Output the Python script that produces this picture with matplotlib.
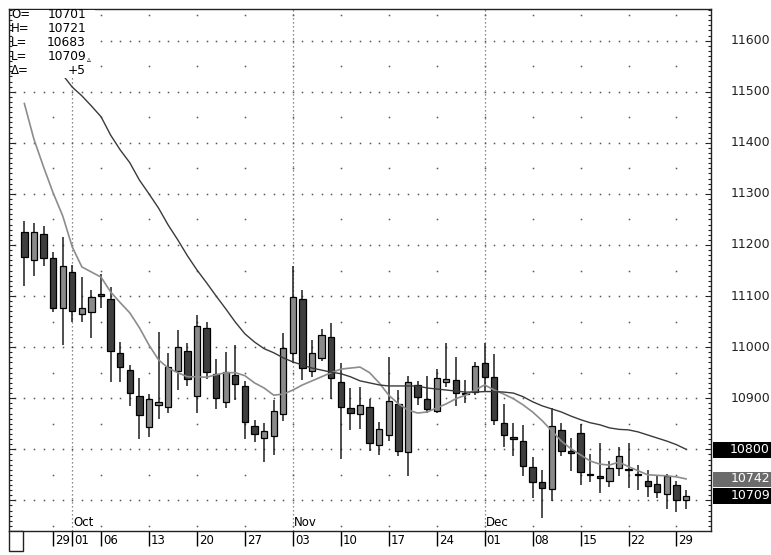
import numpy as np
import matplotlib.pyplot as plt
import matplotlib.transforms as mtransforms
from matplotlib.patches import Rectangle
from matplotlib.ticker import MultipleLocator

# daily bars, 24 Sep .. 30 Dec (one bar per weekday)
opens = [11226, 11171, 11222, 11175, 11076, 11148, 11065, 11068, 11104, 11094,
         10989, 10955, 10904, 10844, 10887, 10882, 10954, 10993, 10904, 11037,
         10948, 10893, 10946, 10923, 10846, 10822, 10826, 10869, 10988, 11094,
         10954, 10978, 11019, 10931, 10880, 10869, 10882, 10809, 10827, 10889,
         10794, 10925, 10898, 10874, 10931, 10936, 10911, 10912, 10968, 10942,
         10852, 10824, 10817, 10765, 10736, 10723, 10837, 10796, 10832, 10752,
         10747, 10737, 10763, 10762, 10751, 10737, 10732, 10713, 10730, 10701]
highs = [11246, 11244, 11238, 11187, 11215, 11161, 11138, 11112, 11143, 11118,
         11011, 10965, 10940, 10908, 11030, 10988, 11034, 11008, 11063, 11050,
         10976, 10991, 11004, 10934, 10858, 10852, 10897, 11027, 11159, 11111,
         11013, 11036, 11047, 10968, 10920, 10922, 10898, 10854, 10980, 10916,
         10944, 10934, 10944, 10957, 11009, 10981, 10936, 10970, 11009, 10987,
         10889, 10852, 10848, 10785, 10760, 10880, 10852, 10822, 10849, 10791,
         10812, 10778, 10805, 10812, 10769, 10760, 10747, 10752, 10737, 10721]
lows = [11120, 11140, 11158, 11068, 11004, 11050, 11050, 11017, 11076, 10931,
        10932, 10884, 10820, 10825, 10859, 10872, 10916, 10924, 10872, 10937,
        10878, 10880, 10897, 10820, 10814, 10776, 10789, 10856, 10968, 10936,
        10941, 10972, 10898, 10781, 10838, 10839, 10797, 10789, 10817, 10787,
        10747, 10887, 10872, 10871, 10921, 10884, 10890, 10906, 10913, 10848,
        10805, 10786, 10747, 10704, 10665, 10698, 10787, 10758, 10730, 10735,
        10715, 10726, 10747, 10724, 10721, 10707, 10704, 10683, 10678, 10683]
closes = [11177, 11226, 11174, 11076, 11158, 11071, 11076, 11099, 11101, 10993,
          10961, 10910, 10867, 10898, 10893, 10961, 11001, 10937, 11042, 10952,
          10900, 10952, 10927, 10854, 10830, 10835, 10875, 10998, 11099, 10959,
          10988, 11024, 10940, 10882, 10871, 10886, 10812, 10840, 10895, 10796,
          10931, 10903, 10879, 10940, 10938, 10910, 10908, 10963, 10942, 10858,
          10828, 10820, 10768, 10735, 10724, 10846, 10797, 10792, 10756, 10750,
          10743, 10764, 10786, 10760, 10749, 10728, 10717, 10747, 10701, 10709]

ma_short = [11477, 11407, 11353, 11302, 11257, 11196, 11157, 11147, 11137, 11108,
            11087, 11067, 11038, 11004, 10975, 10959, 10950, 10942, 10942, 10941,
            10946, 10950, 10950, 10944, 10930, 10920, 10906, 10908, 10916, 10926,
            10934, 10942, 10950, 10957, 10959, 10961, 10950, 10930, 10906, 10889,
            10877, 10871, 10873, 10881, 10889, 10899, 10906, 10916, 10926, 10916,
            10908, 10899, 10887, 10873, 10856, 10836, 10816, 10801, 10789, 10777,
            10771, 10769, 10775, 10766, 10758, 10750, 10749, 10748, 10746, 10742]
ma_long = [np.nan, np.nan, np.nan, np.nan, 11533, 11509, 11492, 11472, 11451, 11415,
           11386, 11361, 11327, 11300, 11272, 11239, 11210, 11179, 11151, 11126,
           11100, 11075, 11049, 11026, 11010, 10997, 10989, 10979, 10971, 10965,
           10959, 10955, 10951, 10948, 10942, 10934, 10930, 10926, 10924, 10924,
           10924, 10924, 10920, 10918, 10916, 10914, 10912, 10912, 10913, 10913,
           10912, 10910, 10903, 10893, 10885, 10879, 10873, 10865, 10858, 10852,
           10848, 10842, 10839, 10838, 10834, 10828, 10822, 10816, 10809, 10800]

tick_idx = [3, 5, 8, 13, 18, 23, 28, 33, 38, 43, 48, 53, 58, 63, 68]
tick_lbl = ['29', '01', '06', '13', '20', '27', '03', '10', '17', '24',
            '01', '08', '15', '22', '29']
week_idx = [3, 8, 13, 18, 23, 28, 33, 38, 43, 48, 53, 58, 63, 68]
month_idx = [5, 28, 48]
month_lbl = ['Oct', 'Nov', 'Dec']
right_lbl = [10700, 10800, 10900, 11000, 11100, 11200, 11300, 11400, 11500, 11600]
info_keys = ['O=', 'H=', 'L=', 'L=', 'Δ=']
info_vals = ['10701', '10721', '10683', '10709', '+5']

W, H = 771, 555
def fx(px):
    return px / W
def fy(py):
    return 1 - py / H

fig = plt.figure(figsize=(W / 100, H / 100), dpi=100)
ax = fig.add_axes([fx(9), fy(530.5), (711 - 9) / W, (530.5 - 9) / H])
ax.set_xlim(-1.6, 71.6)
ax.set_ylim(10641, 11662)

n = len(opens)
idx = np.arange(n)

# dotted grid: daily dots on 100 levels, weekly dots on 50 levels
day_x = np.arange(-1, 71)
for lvl in range(10700, 11700, 100):
    ax.plot(day_x, [lvl] * len(day_x), ls='none', marker='s', ms=1.1,
            mec='none', mfc='#555555', zorder=1)
for lvl in range(10650, 11700, 100):
    ax.plot(week_idx, [lvl] * len(week_idx), ls='none', marker='s', ms=1.1,
            mec='none', mfc='#555555', zorder=1)
for m in month_idx:
    ax.axvline(m, color='#666666', lw=0.9, ls=(0, (1, 2.2)), zorder=1)

# candles
o = np.array(opens); c = np.array(closes)
up = c >= o
body_lo = np.minimum(o, c)
body_h = np.maximum(np.abs(c - o), 1.5)
ax.vlines(idx, lows, highs, color='#1e1e1e', lw=1.1, zorder=3)
ax.bar(idx, body_h, bottom=body_lo, width=0.66,
       color=np.where(up, '#8a8a8a', '#3e3e3e'), edgecolor='black',
       linewidth=0.9, zorder=4)

# moving averages
ax.plot(idx, ma_short, color='#8c8c8c', lw=1.2, zorder=5)
ax.plot(idx, ma_long, color='#3a3a3a', lw=1.0, zorder=5)

# axes and ticks
for s in ax.spines.values():
    s.set_color('#222222')
    s.set_linewidth(1.0)
ax.yaxis.set_major_locator(MultipleLocator(100))
ax.yaxis.set_minor_locator(MultipleLocator(10))
ax.tick_params(axis='y', which='both', left=True, right=True, direction='in',
               labelleft=False, labelright=False, color='#222222', width=0.8)
ax.tick_params(axis='y', which='major', length=4.5)
ax.tick_params(axis='y', which='minor', length=2.2)
ax.set_xticks(tick_idx)
ax.tick_params(axis='x', which='both', bottom=True, top=False, direction='out',
               length=11, width=1.0, color='black', labelbottom=False)
ax.xaxis.set_minor_locator(plt.NullLocator())

tx = mtransforms.blended_transform_factory(ax.transData, fig.transFigure)
for i, t in zip(tick_idx, tick_lbl):
    ax.text(i + 0.2, fy(534), t, transform=tx, ha='left', va='top',
            fontsize=8.5, color='black', clip_on=False)
for i, t in zip(month_idx, month_lbl):
    ax.text(i + 0.12, fy(529.5), t, transform=tx, ha='left', va='bottom',
            fontsize=8.5, color='black', zorder=6)

# right side price labels
ty = mtransforms.blended_transform_factory(fig.transFigure, ax.transData)
for v in right_lbl:
    ax.text(fx(770), v, str(v), transform=ty, ha='right', va='center',
            fontsize=9, color='#222222', clip_on=False)
tags = [(ma_long[-1], 'black'), (ma_short[-1], '#6b6b6b'), (closes[-1], 'black')]
for v, col in tags:
    ax.add_patch(Rectangle((fx(712.5), v - 16.5), 1 - fx(712.5), 31, transform=ty,
                           facecolor=col, edgecolor='none', clip_on=False, zorder=8))
    ax.text(fx(770), v, str(int(v)), transform=ty, ha='right', va='center',
            fontsize=9, color='white', clip_on=False, zorder=9)

# info box top-left
fig.add_artist(Rectangle((fx(13), fy(78)), fx(95) - fx(13), fy(10) - fy(78),
                         transform=fig.transFigure, facecolor='white',
                         edgecolor='none', zorder=5))
rows = [15, 29, 42.5, 56, 70]
for k, v, r in zip(info_keys, info_vals, rows):
    fig.text(fx(11), fy(r), k, ha='left', va='center', fontsize=8.5, zorder=6)
    fig.text(fx(86), fy(r), v, ha='right', va='center', fontsize=8.8, zorder=6)
fig.text(fx(86.5), fy(59), '▵', ha='left', va='center', fontsize=5.5, zorder=6)

# small box bottom-left
fig.add_artist(Rectangle((fx(8.5), fy(550.5)), fx(23) - fx(8.5), fy(530.5) - fy(550.5),
                         transform=fig.transFigure, facecolor='white',
                         edgecolor='#222222', lw=1.0, zorder=5))

fig.savefig('out.png', dpi=100, facecolor='white')
